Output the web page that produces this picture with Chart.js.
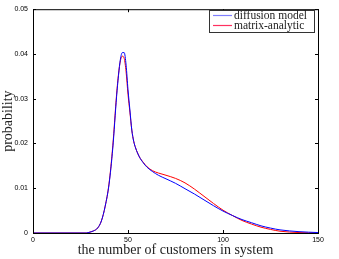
<!DOCTYPE html>
<html>
<head>
<meta charset="utf-8">
<script src="https://cdn.jsdelivr.net/npm/chart.js@4"></script>
<style>
  html, body { margin: 0; padding: 0; background: #fff; }
  #wrap { width: 339px; height: 259px; }
</style>
</head>
<body>
<div id="wrap"><canvas id="chart" width="339" height="259"></canvas></div>
<script>
// customers in system (x) and the two probability curves
const customers = [0, 28, 30, 32, 34, 36, 38, 40, 42, 44, 45, 46, 47, 48, 49, 50, 51, 52, 53, 54, 56, 58, 60, 63, 66, 70, 75, 80, 85, 90, 95, 100, 105, 110, 115, 120, 125, 130, 140, 150];
const diffusion = [0, 0, 0.0002, 0.0005, 0.0011, 0.0027, 0.006, 0.0108, 0.019, 0.0305, 0.0352, 0.0388, 0.0403, 0.0403, 0.0375, 0.032, 0.0275, 0.023, 0.0205, 0.019, 0.017, 0.0157, 0.0147, 0.0137, 0.0129, 0.0121, 0.0111, 0.0099, 0.0087, 0.0074, 0.0061, 0.0049, 0.0039, 0.003, 0.0023, 0.0016, 0.0011, 0.0007, 0.0003, 0.0001];
const matrixAnalytic = [0, 0, 0.0002, 0.0005, 0.0011, 0.0027, 0.006, 0.011, 0.0195, 0.031, 0.0355, 0.0385, 0.0395, 0.039, 0.036, 0.031, 0.027, 0.023, 0.0205, 0.019, 0.017, 0.0158, 0.0148, 0.0139, 0.0134, 0.0129, 0.0122, 0.0112, 0.0098, 0.0082, 0.0066, 0.0051, 0.0039, 0.0028, 0.002, 0.0013, 0.0008, 0.0004, 0.0001, 0];
const seriesNames = ['diffusion model', 'matrix-analytic'];
const seriesColors = ['#0000ff', '#ff0000'];
const legendColors = ['#8080ff', '#ff3060'];
const xTicks = [0, 50, 100, 150];
const yTicks = [0, 0.01, 0.02, 0.03, 0.04, 0.05];

const serif = '"Liberation Serif", "DejaVu Serif", serif';
const sans = '"Liberation Sans", Arial, sans-serif';

function toPoints(ys) {
    return customers.map((x, i) => ({ x: x, y: ys[i] }));
}

// box round the plot, inward ticks on all four sides, and the legend box
const boxPlugin = {
    id: 'boxPlugin',
    afterDraw(chart) {
        const { ctx, chartArea: a, scales } = chart;
        ctx.save();
        ctx.strokeStyle = '#000';
        ctx.lineWidth = 1;
        ctx.strokeRect(a.left + 0.5, a.top + 0.5, a.right - a.left, a.bottom - a.top);
        ctx.beginPath();
        xTicks.forEach(v => {
            const px = Math.round(scales.x.getPixelForValue(v)) + 0.5;
            ctx.moveTo(px, a.bottom); ctx.lineTo(px, a.bottom - 3);
            ctx.moveTo(px, a.top); ctx.lineTo(px, a.top + 3);
        });
        yTicks.forEach(v => {
            const py = Math.round(scales.y.getPixelForValue(v)) + 0.5;
            ctx.moveTo(a.left, py); ctx.lineTo(a.left + 3, py);
            ctx.moveTo(a.right, py); ctx.lineTo(a.right - 3, py);
        });
        ctx.stroke();

        // legend
        const lx = 209, ly = 10, lw = 105, lh = 22;
        ctx.fillStyle = '#fff';
        ctx.fillRect(lx, ly, lw, lh);
        ctx.strokeStyle = '#333';
        ctx.strokeRect(lx + 0.5, ly + 0.5, lw, lh);
        ctx.font = '11.5px ' + serif;
        ctx.textBaseline = 'middle';
        seriesNames.forEach((name, i) => {
            const yy = ly + 5.5 + i * 10;
            ctx.strokeStyle = legendColors[i];
            ctx.lineWidth = 1.2;
            ctx.beginPath();
            ctx.moveTo(213, yy); ctx.lineTo(232, yy);
            ctx.stroke();
            ctx.fillStyle = '#222';
            ctx.fillText(name, 234, yy);
        });
        ctx.restore();
    }
};

new Chart(document.getElementById('chart'), {
    type: 'line',
    data: {
        datasets: seriesNames.map((name, i) => ({
            label: name,
            data: toPoints(i === 0 ? diffusion : matrixAnalytic),
            borderColor: seriesColors[i],
            borderWidth: 1,
            pointRadius: 0,
            cubicInterpolationMode: 'monotone',
            fill: false
        }))
    },
    options: {
        responsive: false,
        animation: false,
        layout: { padding: { top: 6, right: 21, left: 0, bottom: 0 } },
        plugins: { legend: { display: false }, tooltip: { enabled: false } },
        scales: {
            x: {
                type: 'linear',
                min: 0, max: 150,
                afterBuildTicks: s => { s.ticks = xTicks.map(v => ({ value: v })); },
                afterFit: s => { s.height = 26; },
                grid: { display: false, drawTicks: false },
                border: { display: false },
                ticks: { padding: 3, color: '#000', font: { family: sans, size: 7 }, maxRotation: 0 },
                title: { display: true, text: 'the number of customers in system', color: '#222', font: { family: serif, size: 14 }, padding: { top: 0, bottom: 0 } }
            },
            y: {
                min: 0, max: 0.05,
                afterBuildTicks: s => { s.ticks = yTicks.map(v => ({ value: v })); },
                afterFit: s => { s.width = 33; },
                grid: { display: false, drawTicks: false },
                border: { display: false },
                ticks: { padding: 5, color: '#000', font: { family: sans, size: 7 }, callback: v => String(v) },
                title: { display: true, text: 'probability', color: '#222', font: { family: serif, size: 14 }, padding: { top: 0, bottom: 0 } }
            }
        }
    },
    plugins: [boxPlugin]
});
</script>
</body>
</html>
